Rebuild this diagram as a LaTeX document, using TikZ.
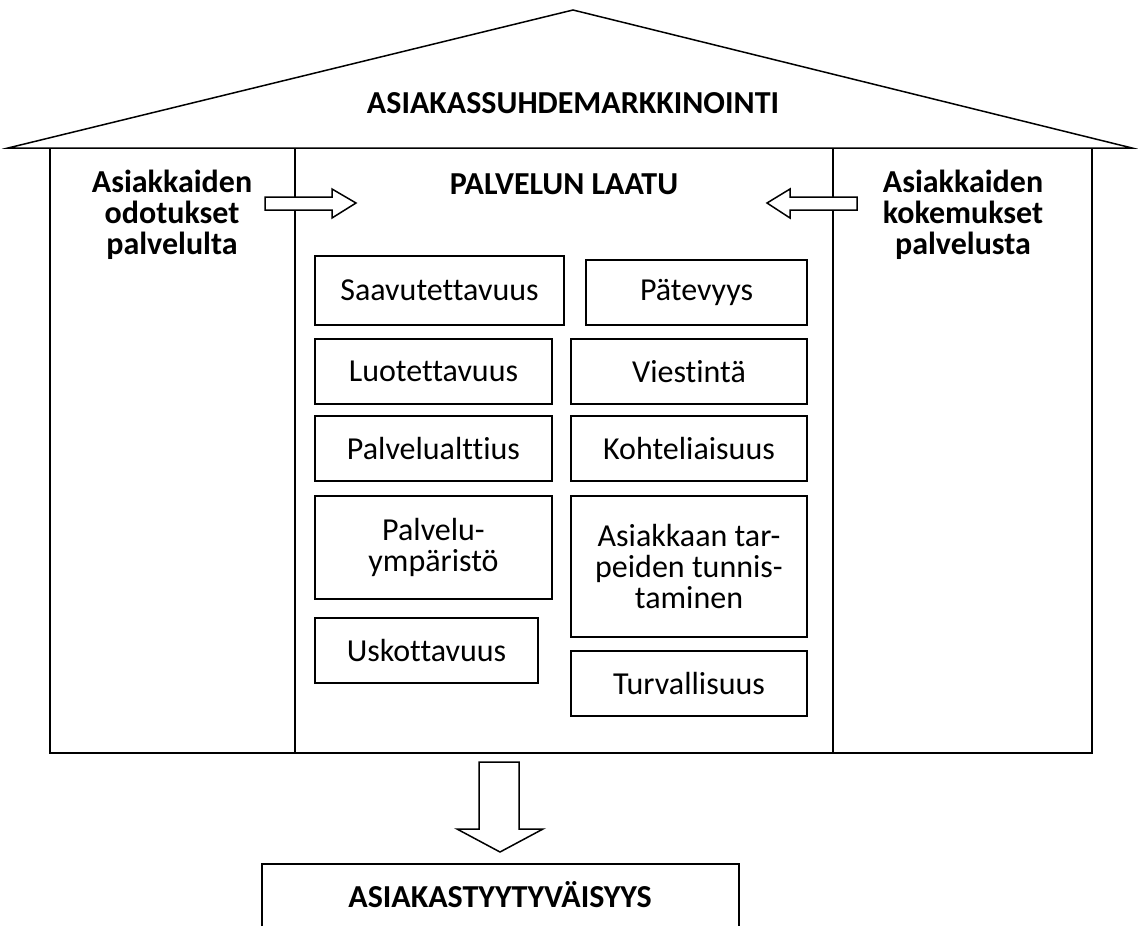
\documentclass[tikz,border=0pt]{standalone}
\usepackage{fontspec}
\setmainfont{Carlito}[Ligatures=CommonOff]
\usepackage{tikz}

\tikzset{
  laatu/.style={draw, line width=0.75pt, align=center, inner sep=0pt,
    font=\fontsize{16}{15.5}\selectfont},
  otsikko/.style={align=center, font=\fontsize{16}{15.5}\selectfont\bfseries},
  nuoli/.style={draw, fill=white, line width=0.75pt, line join=miter}
}

\begin{document}
\begin{tikzpicture}[x=0.5pt,y=-0.5pt,line width=0.75pt]
        \useasboundingbox (0,0) rectangle (1138,926);
        % katto ja talo
        \draw (8,148) -- (573,10) -- (1132,148) -- cycle;
        \draw (50,148) -- (50,753) -- (1092,753) -- (1092,148);
        \draw (295,148) -- (295,753);
        \draw (833,148) -- (833,753);
        \node[otsikko] (suhde) at (573,103) {ASIAKASSUHDEMARKKINOINTI};
        \node[otsikko] (laatu) at (564,184) {PALVELUN LAATU};
        \node[otsikko] (odotus) at (172,215) {Asiakkaiden\\odotukset\\palvelulta};
        \node[otsikko] (kokemus) at (963,215) {Asiakkaiden\\kokemukset\\palvelusta};
        % nuolet
        \draw[nuoli] (265,197) -- (332,197) -- (332,189) -- (356,203) -- (332,218) -- (332,210) -- (265,210) -- cycle;
        \draw[nuoli] (857,197) -- (790,197) -- (790,189) -- (767,203) -- (790,218) -- (790,210) -- (857,210) -- cycle;
        % laadun osatekijat
        \node[laatu, minimum width=124.5pt, minimum height=34.5pt] (saav) at (439.5,290.5) {Saavutettavuus};
        \node[laatu, minimum width=110.5pt, minimum height=32.5pt] (pate) at (696.5,292.5) {Pätevyys};
        \node[laatu, minimum width=118.5pt, minimum height=32.5pt] (luot) at (433.5,371.5) {Luotettavuus};
        \node[laatu, minimum width=118pt, minimum height=32.5pt] (vies) at (689,371.5) {Viestintä};
        \node[laatu, minimum width=118.5pt, minimum height=32.5pt] (palv) at (433.5,448.5) {Palvelualttius};
        \node[laatu, minimum width=118pt, minimum height=32.5pt] (koht) at (689,448.5) {Kohteliaisuus};
        \node[laatu, minimum width=118.5pt, minimum height=51.5pt] (ympa) at (433.5,547.5) {Palvelu-\\ympäristö};
        \node[laatu, minimum width=118pt, minimum height=70.5pt] (tarp) at (689,566.5) {Asiakkaan tar-\\peiden tunnis-\\taminen};
        \node[laatu, minimum width=111.5pt, minimum height=32.5pt] (usko) at (426.5,650.5) {Uskottavuus};
        \node[laatu, minimum width=118pt, minimum height=32.5pt] (turv) at (689,683.5) {Turvallisuus};
        % tyytyvaisyys
        \draw[nuoli] (479,762) -- (519,762) -- (519,829) -- (543,829) -- (500,852) -- (457,829) -- (479,829) -- cycle;
        \draw (262,926) -- (262,864) -- (739,864) -- (739,926);
        \node[otsikko] (tyyty) at (500,895) {ASIAKASTYYTYVÄISYYS};
      \end{tikzpicture}
\end{document}
